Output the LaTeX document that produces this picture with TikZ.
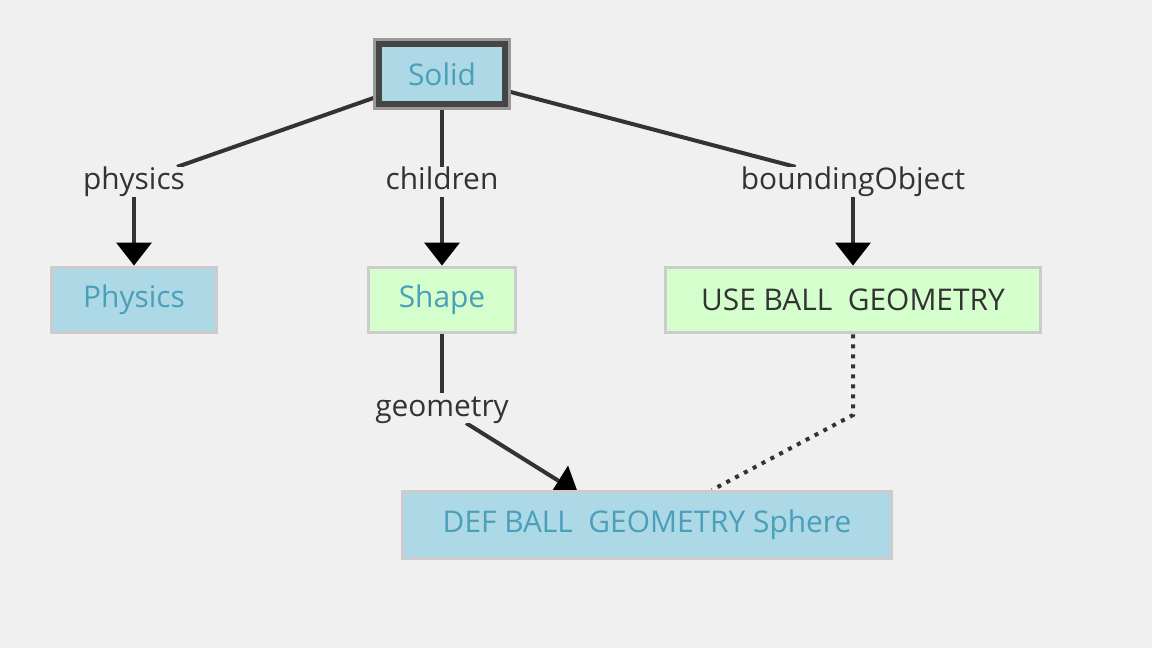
\documentclass[tikz,border=0pt]{standalone}
\usepackage{fontspec}
\setmainfont{Open Sans}
\usetikzlibrary{arrows.meta}
\definecolor{canvas}{HTML}{F0F0F0}
\definecolor{nodeblue}{HTML}{ADD8E6}
\definecolor{nodegreen}{HTML}{D4FFCC}
\definecolor{bluetext}{HTML}{4A9FBA}
\definecolor{edgegray}{HTML}{333333}
\pgfdeclarelayer{canvaslayer}
\pgfdeclarelayer{edgelayer}
\pgfsetlayers{canvaslayer,edgelayer,main}
\tikzset{
  fieldbox/.style={draw=black!20, line width=0.06cm, inner sep=0pt, font=\fontsize{17}{20}\selectfont},
  bluebox/.style={fieldbox, fill=nodeblue, text=bluetext},
  greenbox/.style={fieldbox, fill=nodegreen},
  rootbox/.style={bluebox, draw=black!73, line width=0.12cm, preaction={draw=black!40, line width=0.24cm}},
  fieldlabel/.style={fill=canvas, inner sep=1pt, anchor=base, text height=0.42cm, text depth=0.1cm, text=black!80, font=\fontsize{17}{20}\selectfont},
  link/.style={draw=edgegray, line width=0.08cm},
  field/.style={link, -{Triangle[length=0.46cm, width=0.72cm, color=black, line width=0pt]}},
  useref/.style={draw=edgegray, line width=0.08cm, dash pattern=on 0.08cm off 0.12cm}
}
\begin{document}
\begin{tikzpicture}[x=0.02cm, y=-0.02cm]
\begin{pgfonlayer}{canvaslayer}
	\fill[canvas] (0, 0) rectangle (1152, 648) ;
\end{pgfonlayer}
	\useasboundingbox (0, 0) rectangle (1152, 648) ;
\node[rootbox, minimum width=2.54cm, minimum height=1.22cm] (solid) at (442, 74) {Solid}; % Solid 
\node[bluebox, minimum width=3.32cm, minimum height=1.32cm] (physics) at (134, 300) {Physics}; % Physics 
\node[greenbox, minimum width=2.94cm, minimum height=1.32cm, text=bluetext] (shape) at (442, 300) {Shape}; % Shape 
\node[greenbox, minimum width=7.52cm, minimum height=1.32cm, text=black!80] (use) at (853, 300) {USE BALL\ \ GEOMETRY}; % USE 
\node[bluebox, minimum width=9.78cm, minimum height=1.34cm] (def) at (647, 525) {DEF BALL\ \ GEOMETRY Sphere}; % DEF 
\node[fieldlabel] (lphysics) at (134, 190) {physics}; % physics 
\node[fieldlabel] (lchildren) at (442, 190) {children}; % children 
\node[fieldlabel] (lbounding) at (853, 190) {boundingObject}; % boundingObject 
\node[fieldlabel] (lgeometry) at (442, 416) {geometry}; % geometry 
\coordinate (geomtip) at (578, 493) ; % geometry.end, just under DEF 
\coordinate (usebend) at (853, 415) ; % USE.bend 
\coordinate (usetip) at (712, 490) ; % USE.end 
\begin{pgfonlayer}{edgelayer}
\draw[link] (solid) -- (lphysics) ; % Solid.physics 
\draw[field] (lphysics) -- (physics) ; % Solid.physics 
\draw[link] (solid) -- (lchildren) ; % Solid.children 
\draw[field] (lchildren) -- (shape) ; % Solid.children 
\draw[link] (solid) -- (lbounding) ; % Solid.boundingObject 
\draw[field] (lbounding) -- (use) ; % Solid.boundingObject 
\draw[link] (shape) -- (lgeometry) ; % Shape.geometry 
\draw[field] (lgeometry) -- (geomtip) ; % Shape.geometry 
\draw[useref] (use) -- (usebend) -- (usetip) ; % USE -> DEF 
\end{pgfonlayer}

	\end{tikzpicture}
\end{document}
